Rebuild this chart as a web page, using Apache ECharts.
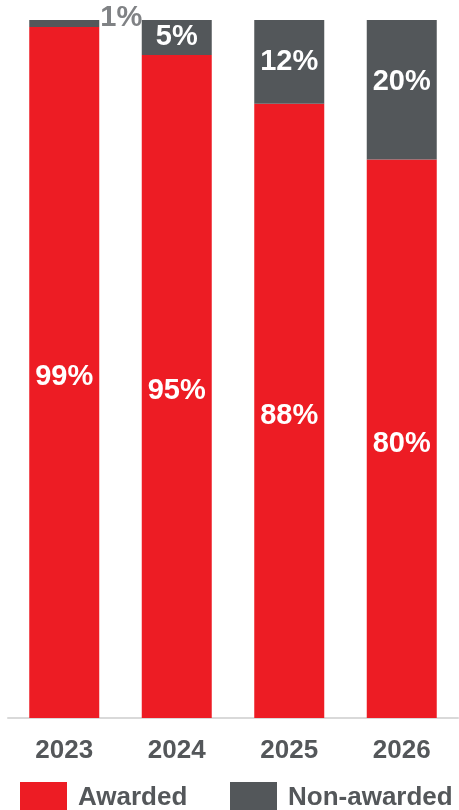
<!DOCTYPE html>
<html><head><meta charset="utf-8">
<script src="https://cdn.jsdelivr.net/npm/echarts@6/dist/echarts.min.js"></script>
<style>html,body{margin:0;padding:0;background:#fff}#c{width:459px;height:810px}</style>
</head><body><div id="c"></div>
<script>
const categories = ['2023', '2024', '2025', '2026'];
const awarded = [99, 95, 88, 80];
const nonAwarded = [1, 5, 12, 20];
const seriesNames = ['Awarded', 'Non-awarded'];

const chart = echarts.init(document.getElementById('c'));
const FONT = '"Liberation Sans", Arial, sans-serif';
const legendBase = {
  top: 782, padding: 0, itemWidth: 47, itemHeight: 32, icon: 'rect',
  textStyle: { color: '#54575a', fontFamily: FONT, fontWeight: 'bold', fontSize: 26, padding: [0,0,0,6] }
};
chart.setOption({
  animation: false,
  grid: { left: 8, right: 1, top: 20, bottom: 92 },
  xAxis: {
    type: 'category', data: categories,
    axisLine: { lineStyle: { color: '#d9d9d9', width: 2 } },
    axisTick: { show: false },
    axisLabel: { color: '#54575a', fontFamily: FONT, fontWeight: 'bold', fontSize: 26, margin: 20 }
  },
  yAxis: { type: 'value', min: 0, max: 100, show: false, splitLine: { show: false } },
  legend: [
    Object.assign({}, legendBase, { left: 20, data: [seriesNames[0]] }),
    Object.assign({}, legendBase, { left: 230, data: [seriesNames[1]] })
  ],
  series: [
    {
      name: seriesNames[0], type: 'bar', stack: 's', barWidth: 70, data: awarded,
      itemStyle: { color: '#ed1c24' },
      label: { show: true, position: 'inside', offset: [0, 5], formatter: '{c}%', color: '#fff', fontFamily: FONT, fontWeight: 'bold', fontSize: 29 }
    },
    {
      name: seriesNames[1], type: 'bar', stack: 's', barWidth: 70,
      data: nonAwarded.map((v, i) => i === 0 ? {
        value: v,
        label: { position: 'right', distance: 1, offset: [0, -5], color: '#808285' }
      } : (i === 3 ? { value: v, label: { offset: [0, -8] } } : v)),
      itemStyle: { color: '#53575a' },
      label: { show: true, position: 'inside', formatter: '{c}%', color: '#fff', fontFamily: FONT, fontWeight: 'bold', fontSize: 29 }
    }
  ]
});
</script></body></html>
